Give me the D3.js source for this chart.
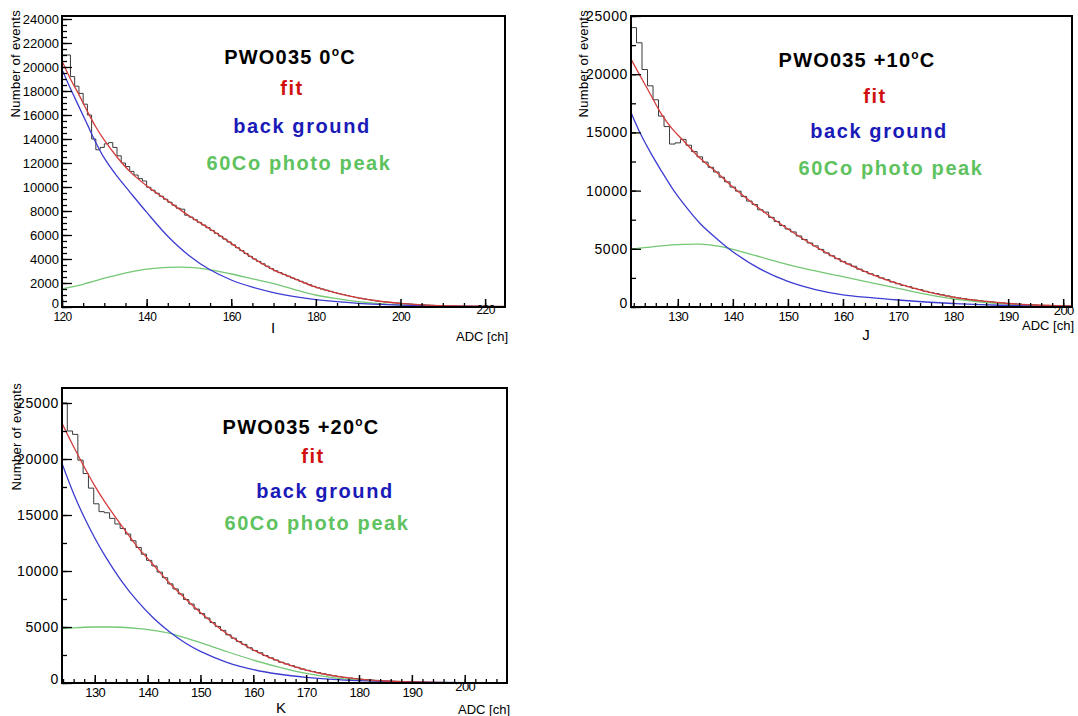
<!DOCTYPE html>
<html>
<head>
<meta charset="utf-8">
<script src="https://cdn.jsdelivr.net/npm/d3@7"></script>
<style>
  body { margin: 0; background: #fff; }
  svg { display: block; font-family: "Liberation Sans", Arial, Helvetica, sans-serif; }
</style>
</head>
<body>
<svg id="chart" width="1078" height="716"></svg>
<script>
// ---------------- Panel I : PWO035 0°C ----------------
const iHistStart = 120;   // first bin lower edge, 1 ADC channel per bin
const iHist = [21000,21000,19200,18400,17800,16900,16000,14000,13100,13300,
  13600,13700,13300,12600,12000,11700,11300,11000,10700,10500,
  9980,9730,9480,9230,8980,8730,8480,8230,8150,7650,
  7490,7270,7050,6830,6610,6380,6140,5900,5660,5420,
  5180,4940,4700,4460,4220,4000,3800,3600,3400,3200,
  3020,2870,2720,2570,2420,2280,2140,2000,1860,1720,
  1600,1500,1400,1300,1200,1110,1030,950,875,800,
  730,675,620,560,510,460,425,390,355,320,
  290,265,240,215,195,175,160,145,130,120,
  108,100,92,85,78,72,68,64,60,56,
  52,50,48,46,44];
const iCurveX = [120,122,124,126,128,130,133,136,140,145,150,155,160,165,170,175,180,185,190,195,200,205,210,215,220,224.7];
const iFit  = [20500,19000,17700,16300,15000,13900,12500,11300,10100,8850,7600,6500,5300,4100,3100,2350,1650,1150,760,480,300,180,110,70,50,40];
const iBg   = [19800,18200,16700,15200,13700,12400,10900,9600,7900,5900,4300,3100,2250,1650,1200,870,620,440,310,220,150,110,80,55,40,30];
const iPeak = [1500,1650,1800,2000,2200,2400,2650,2900,3150,3300,3300,3100,2750,2350,1950,1450,1000,700,450,280,170,100,60,35,20,10];
const iXTicks = [120,140,160,180,200,220];
const iYTicks = [0,2000,4000,6000,8000,10000,12000,14000,16000,18000,20000,22000,24000];

// ---------------- Panel J : PWO035 +10°C ----------------
const jHistStart = 121.5;
const jHist = [24000,22700,20400,19000,17800,16400,15500,14000,14100,14400,
  13900,13350,12900,12450,12000,11600,11150,10750,10300,9950,
  9500,9100,8800,8350,8150,7700,7350,7000,6700,6450,
  6100,5800,5500,5250,4950,4650,4400,4150,3900,3700,
  3500,3250,3050,2850,2700,2500,2350,2150,2000,1850,
  1750,1600,1500,1350,1250,1150,1050,950,850,780,
  720,650,590,520,480,440,390,350,300,270,
  250,220,190,170,150,140,120,110,100,90];
const jCurveX = [121.5,123,125,127,129,131,134,137,140,145,150,155,160,165,170,175,180,185,190,195,200,201.6];
const jFit  = [21300,20000,18300,16600,15300,14300,12800,11600,10300,8400,6700,5200,3900,2850,2000,1350,850,520,300,170,100,80];
const jBg   = [16700,15100,13300,11700,10200,8900,7200,5900,4750,3250,2200,1500,1050,800,600,430,300,200,130,80,50,40];
const jPeak = [4950,5050,5150,5250,5330,5380,5400,5250,4950,4300,3650,3100,2600,2100,1600,1100,700,430,250,130,70,60];
const jXTicks = [130,140,150,160,170,180,190,200];
const jYTicks = [0,5000,10000,15000,20000,25000];

// ---------------- Panel K : PWO035 +20°C ----------------
const kHistStart = 123.8;
const kHist = [25000,22500,22200,19900,18700,17400,16000,15300,15200,14700,
  14200,13800,13300,12700,12100,11500,10950,10450,9900,9400,
  8850,8400,7950,7450,7050,6600,6200,5800,5400,5050,
  4700,4300,4000,3700,3450,3150,2900,2700,2450,2250,
  2050,1850,1700,1550,1400,1250,1130,1020,920,820,
  720,640,570,500,440,390,340,300,265,235,
  205,180,160,140,120,105,90,80,72,65,
  58,52,47,43,40,36,33,30,28,27,
  25,24,23,22,20];
const kCurveX = [123.8,126,128,130,132,135,138,141,144,147,150,155,160,165,170,175,180,185,190,195,200,208];
const kFit  = [23200,21100,19300,17600,16100,14100,12200,10600,9000,7600,6300,4400,2950,1900,1150,650,350,180,90,50,30,20];
const kBg   = [19600,16900,14800,12950,11300,9150,7350,5850,4620,3620,2820,1850,1200,780,510,330,215,140,90,58,38,20];
const kPeak = [4850,4920,4980,5000,5000,4980,4880,4700,4450,4050,3600,2800,2050,1400,850,480,250,120,60,35,20,10];
const kXTicks = [130,140,150,160,170,180,190,200];
const kYTicks = [0,5000,10000,15000,20000,25000];

// Legend / label text
const legendFit = "fit";
const legendBg = "back ground";
const legendPeak = "60Co photo peak";
const yTitle = "Number of events";
const xTitle = "ADC [ch]";

// Drawing colours
const COL = {
  hist: "#3a3a3a", fit: "#d43c3c", bg: "#3c3cd2", peak: "#74c874",
  fitText: "#d01010", bgText: "#1a1ab8", peakText: "#5ec25e"
};

// Panel layout (frame in pixels, axis ranges, text anchors)
const panels = [
  {
    key: "I", temp: "0", histStart: iHistStart, hist: iHist,
    cx: iCurveX, fit: iFit, bg: iBg, peak: iPeak,
    xTicks: iXTicks, yTicks: iYTicks, xMinor: 5, yMinor: 500,
    xDomain: [120, 224.7], yDomain: [0, 24250],
    frame: { x0: 62, x1: 505, y0: 16, y1: 307 },
    xLabelSize: 12, yLabelSize: 13,
    legend: { title: [290, 64], fit: [292, 95], bg: [302, 133], peak: [299, 170] },
    letter: [273, 333], xt: [508, 341], yt: [20, 10]
  },
  {
    key: "J", temp: "+10", histStart: jHistStart, hist: jHist,
    cx: jCurveX, fit: jFit, bg: jBg, peak: jPeak,
    xTicks: jXTicks, yTicks: jYTicks, xMinor: 2, yMinor: 2500,
    xDomain: [121.5, 201.6], yDomain: [0, 25000],
    frame: { x0: 631, x1: 1072, y0: 16, y1: 307 },
    xLabelSize: 13, yLabelSize: 14,
    legend: { title: [857, 67], fit: [875, 103], bg: [879, 138], peak: [891, 175] },
    letter: [866, 340], xt: [1074, 330], yt: [588, 10]
  },
  {
    key: "K", temp: "+20", histStart: kHistStart, hist: kHist,
    cx: kCurveX, fit: kFit, bg: kBg, peak: kPeak,
    xTicks: kXTicks, yTicks: kYTicks, xMinor: 2, yMinor: 2500,
    xDomain: [123.8, 208], yDomain: [0, 26340],
    frame: { x0: 62, x1: 507, y0: 388, y1: 683 },
    xLabelSize: 13, yLabelSize: 14,
    legend: { title: [301, 434], fit: [313, 463], bg: [325, 498], peak: [317, 530] },
    letter: [281, 713], xt: [510, 714], yt: [21, 383]
  }
];

const svg = d3.select("#chart");

panels.forEach((p, idx) => {
  const f = p.frame;
  const x = d3.scaleLinear().domain(p.xDomain).range([f.x0, f.x1]);
  const y = d3.scaleLinear().domain(p.yDomain).range([f.y1, f.y0]);
  const g = svg.append("g").attr("class", "panel-" + p.key);

  const clipId = "clip" + idx;
  g.append("clipPath").attr("id", clipId)
    .append("rect").attr("x", f.x0).attr("y", f.y0)
    .attr("width", f.x1 - f.x0).attr("height", f.y1 - f.y0);

  const plot = g.append("g").attr("clip-path", `url(#${clipId})`);

  // histogram as a step outline
  const steps = p.hist.map((c, i) => [p.histStart + i, c]);
  steps.push([p.histStart + p.hist.length, p.hist[p.hist.length - 1]]);
  const stepLine = d3.line().x(d => x(d[0])).y(d => y(d[1])).curve(d3.curveStepAfter);
  plot.append("path").attr("d", stepLine(steps))
    .attr("fill", "none").attr("stroke", COL.hist).attr("stroke-width", 1);

  // fitted components
  const smooth = d3.line().x(d => x(d[0])).y(d => y(d[1])).curve(d3.curveCatmullRom.alpha(0.5));
  const series = [[p.peak, COL.peak], [p.bg, COL.bg], [p.fit, COL.fit]];
  series.forEach(([vals, col]) => {
    plot.append("path")
      .attr("d", smooth(p.cx.map((v, i) => [v, vals[i]])))
      .attr("fill", "none").attr("stroke", col).attr("stroke-width", 1.3);
  });

  // y axis: minor ticks, then major ticks with labels (ticks point inward)
  const yMinorVals = d3.range(p.yDomain[0], p.yDomain[1] + 1, p.yMinor);
  g.append("g").attr("transform", `translate(${f.x0},0)`)
    .call(d3.axisLeft(y).tickValues(yMinorVals).tickSize(-5).tickFormat(""))
    .call(a => a.select(".domain").remove());
  const yAx = g.append("g").attr("transform", `translate(${f.x0},0)`)
    .call(d3.axisLeft(y).tickValues(p.yTicks).tickSize(-10).tickPadding(3).tickFormat(d3.format("d")));
  yAx.select(".domain").remove();
  yAx.selectAll("text").attr("font-size", p.yLabelSize).attr("fill", "#000")
    .attr("font-family", "Liberation Sans, Arial, sans-serif")
    .attr("letter-spacing", p.key === "I" ? 0 : 0.6)
    .attr("dy", d => d === 0 ? "0.05em" : "0.32em");
  g.selectAll(".tick line").attr("stroke", "#000").attr("stroke-width", 1.3);

  // x axis
  const xMinorVals = d3.range(Math.ceil(p.xDomain[0] / p.xMinor) * p.xMinor, p.xDomain[1], p.xMinor);
  g.append("g").attr("transform", `translate(0,${f.y1})`)
    .call(d3.axisBottom(x).tickValues(xMinorVals).tickSize(-4).tickFormat(""))
    .call(a => a.select(".domain").remove())
    .selectAll("line").attr("stroke", "#000").attr("stroke-width", 1.3);
  const xAx = g.append("g").attr("transform", `translate(0,${f.y1})`)
    .call(d3.axisBottom(x).tickValues(p.xTicks).tickSize(-8).tickPadding(5).tickFormat(d3.format("d")));
  xAx.select(".domain").remove();
  xAx.selectAll("line").attr("stroke", "#000").attr("stroke-width", 1.5);
  xAx.selectAll("text").attr("font-size", p.xLabelSize).attr("fill", "#000")
    .attr("font-family", "Liberation Sans, Arial, sans-serif").attr("letter-spacing", -0.6)
    .attr("dy", (d, i) => i === p.xTicks.length - 1 ? "0.2em" : "0.71em");

  // frame
  g.append("rect").attr("x", f.x0).attr("y", f.y0)
    .attr("width", f.x1 - f.x0).attr("height", f.y1 - f.y0)
    .attr("fill", "none").attr("stroke", "#000").attr("stroke-width", 2);

  // axis titles
  g.append("text").attr("transform", `translate(${p.yt[0]},${p.yt[1]}) rotate(-90)`)
    .attr("text-anchor", "end").attr("font-size", 13).attr("letter-spacing", 0.3)
    .attr("fill", "#000").text(yTitle);
  g.append("text").attr("x", p.xt[0]).attr("y", p.xt[1])
    .attr("text-anchor", "end").attr("font-size", 13).attr("fill", "#000").text(xTitle);
  g.append("text").attr("x", p.letter[0]).attr("y", p.letter[1])
    .attr("text-anchor", "middle").attr("font-size", 15).attr("fill", "#000").text(p.key);

  // legend block
  const L = p.legend;
  const title = g.append("text").attr("x", L.title[0]).attr("y", L.title[1])
    .attr("text-anchor", "middle").attr("font-size", 20).attr("font-weight", "bold")
    .attr("letter-spacing", 1.2).attr("fill", "#000");
  title.append("tspan").text("PWO035 " + p.temp);
  title.append("tspan").attr("font-size", 12).attr("dy", -8).text("o");
  title.append("tspan").attr("dy", 8).text("C");

  const leg = [[L.fit, legendFit, COL.fitText], [L.bg, legendBg, COL.bgText], [L.peak, legendPeak, COL.peakText]];
  leg.forEach(([pos, txt, col]) => {
    g.append("text").attr("x", pos[0]).attr("y", pos[1])
      .attr("text-anchor", "middle").attr("font-size", 20).attr("font-weight", "bold")
      .attr("letter-spacing", 1.6).attr("fill", col).text(txt);
  });
});
</script>
</body>
</html>
